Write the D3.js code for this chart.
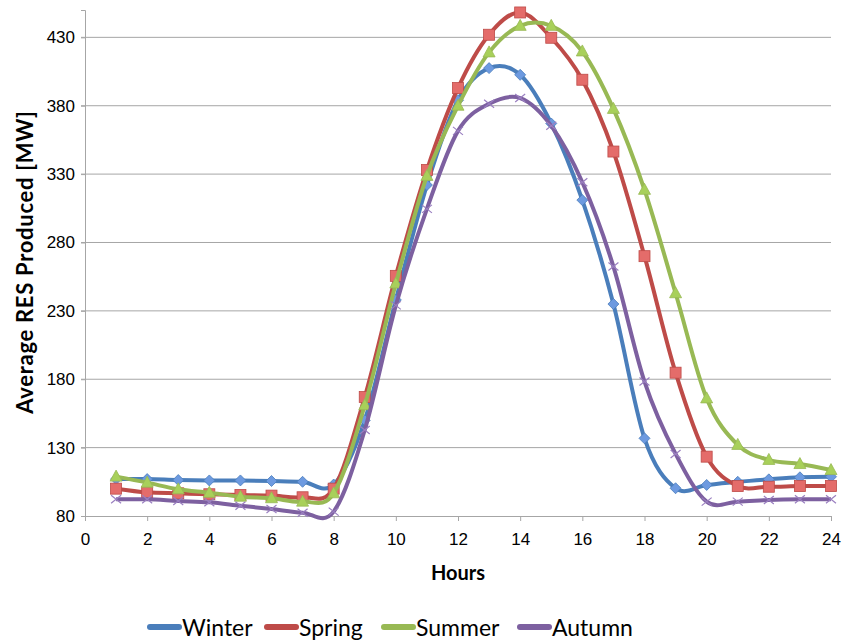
<!DOCTYPE html>
<html>
<head>
<meta charset="utf-8">
<script src="https://cdn.jsdelivr.net/npm/d3@7"></script>
<style>
  body { margin: 0; background: #fff; }
  svg { font-family: Lato, "Open Sans", sans-serif; }
</style>
</head>
<body>
<svg width="845" height="640"></svg>
<script>
// the chart data
const hours = d3.range(1, 25);
const winter = [107, 107, 106.3, 106, 106, 105.6, 105, 103, 150, 238, 322, 384, 407.5, 402.6, 367, 311, 235, 136.8, 100.3, 102.7, 105, 106.8, 108.3, 108.7];
const spring = [100, 97.3, 96.6, 95.9, 95.4, 94.9, 93.7, 100, 167, 255.6, 333, 392.9, 431.9, 448.2, 429.7, 399, 346.5, 270, 184.8, 123.4, 101.9, 101.4, 101.9, 101.9];
const summer = [108.8, 104.4, 99.5, 97, 94.1, 93, 90.5, 96.6, 161, 250, 328.7, 380, 419, 438.4, 438.4, 419.7, 377.7, 318.5, 242.9, 166, 132, 121, 118, 113.6];
const autumn = [92.2, 92.2, 91, 90, 87.5, 85.1, 82.4, 83.2, 142.9, 234, 304.6, 361.6, 381.4, 385.6, 365.3, 324, 262.4, 178.3, 125.4, 90.5, 90.5, 91.7, 92.2, 92.2];
const seriesNames = ["Winter", "Spring", "Summer", "Autumn"];
const xTicks = d3.range(0, 25, 2);
const yTicks = [80, 130, 180, 230, 280, 330, 380, 430];

const colors = ["#4a7ebb", "#be4b48", "#98b954", "#7d60a0"];
const fills = ["#6d9ae0", "#e46c6a", "#a8d05a", "#9a7fc0"];
const markers = ["diamond", "square", "triangle", "cross"];

var svg = d3.select("svg");

// plot area
const plotLeft = 85, plotRight = 831, plotTop = 10, plotBottom = 516;

var x = d3.scaleLinear().domain([0, 24]).range([plotLeft, plotRight]);
var y = d3.scaleLinear().domain([80, 450]).range([plotBottom, plotTop]);

// horizontal grid lines (tick goes a bit left of the axis)
svg.append("g")
  .selectAll("line")
  .data(yTicks.filter(d => d != 80))
  .enter().append("line")
  .attr("x1", plotLeft - 4).attr("x2", plotRight)
  .attr("y1", d => y(d)).attr("y2", d => y(d))
  .style("stroke", "#a6a6a6").style("stroke-width", 1);

// y axis
var yAxis = svg.append("g")
  .attr("transform", "translate(" + plotLeft + ",0)")
  .call(d3.axisLeft(y).tickValues(yTicks).tickSize(4).tickPadding(6));
yAxis.select(".domain").style("stroke", "#a6a6a6");
yAxis.selectAll(".tick line").style("stroke", "#a6a6a6");
yAxis.selectAll("text").style("font-size", "17px").style("fill", "#000");

// x axis
var xAxis = svg.append("g")
  .attr("transform", "translate(0," + plotBottom + ")")
  .call(d3.axisBottom(x).tickValues(xTicks).tickSize(5).tickPadding(12));
xAxis.select(".domain").style("stroke", "#a6a6a6");
xAxis.selectAll(".tick line").style("stroke", "#a6a6a6");
xAxis.selectAll("text").style("font-size", "17px").style("fill", "#000");

// axis titles
svg.append("text")
  .attr("transform", "translate(33,262) rotate(-90)")
  .attr("text-anchor", "middle")
  .style("font-size", "22px").style("font-weight", "bold")
  .style("letter-spacing", "0.7px")
  .text("Average RES Produced [MW]");

svg.append("text")
  .attr("x", 458).attr("y", 580)
  .attr("text-anchor", "middle")
  .style("font-size", "20px").style("font-weight", "bold")
  .text("Hours");

var line = d3.line()
  .x((d, i) => x(hours[i]))
  .y(d => y(d))
  .curve(d3.curveCardinal.tension(0));

function drawMarker(g, type, color, fill) {
  var s = 5.5;
  if (type == "diamond") {
    g.append("path").attr("d", "M0," + (-s) + "L" + s + ",0L0," + s + "L" + (-s) + ",0Z")
      .style("fill", fill).style("stroke", color).style("stroke-width", 0.8);
  } else if (type == "square") {
    g.append("rect").attr("x", -s).attr("y", -s).attr("width", 2 * s).attr("height", 2 * s)
      .style("fill", fill).style("stroke", color).style("stroke-width", 0.8);
  } else if (type == "triangle") {
    g.append("path").attr("d", "M0," + (-s - 1) + "L" + (s + 0.5) + "," + (s - 1) + "L" + (-s - 0.5) + "," + (s - 1) + "Z")
      .style("fill", fill).style("stroke", color).style("stroke-width", 0.8);
  } else {
    g.append("path").attr("d", "M-5,-4L5,4M-5,4L5,-4")
      .style("fill", "none").style("stroke", fill).style("stroke-width", 1.2);
  }
}

[winter, spring, summer, autumn].forEach(function(vals, k) {
  var g = svg.append("g");
  g.append("path")
    .attr("d", line(vals))
    .style("fill", "none")
    .style("stroke", colors[k])
    .style("stroke-width", 4)
    .style("stroke-linejoin", "round");
  g.selectAll("g.m")
    .data(vals)
    .enter().append("g")
    .attr("class", "m")
    .attr("transform", (d, i) => "translate(" + x(hours[i]) + "," + y(d) + ")")
    .each(function() { drawMarker(d3.select(this), markers[k], colors[k], fills[k]); });
});

// legend
var legendX = [147, 264, 381, 517];
var legend = svg.append("g").selectAll("g")
  .data(seriesNames)
  .enter().append("g")
  .attr("transform", (d, i) => "translate(" + legendX[i] + ",627)");
legend.append("line")
  .attr("x1", 3).attr("x2", 32).attr("y1", 0).attr("y2", 0)
  .style("stroke", (d, i) => colors[i])
  .style("stroke-width", 6)
  .style("stroke-linecap", "round");
legend.append("text")
  .attr("x", 35).attr("y", 9)
  .style("font-size", "23px")
  .text(d => d);
</script>
</body>
</html>
